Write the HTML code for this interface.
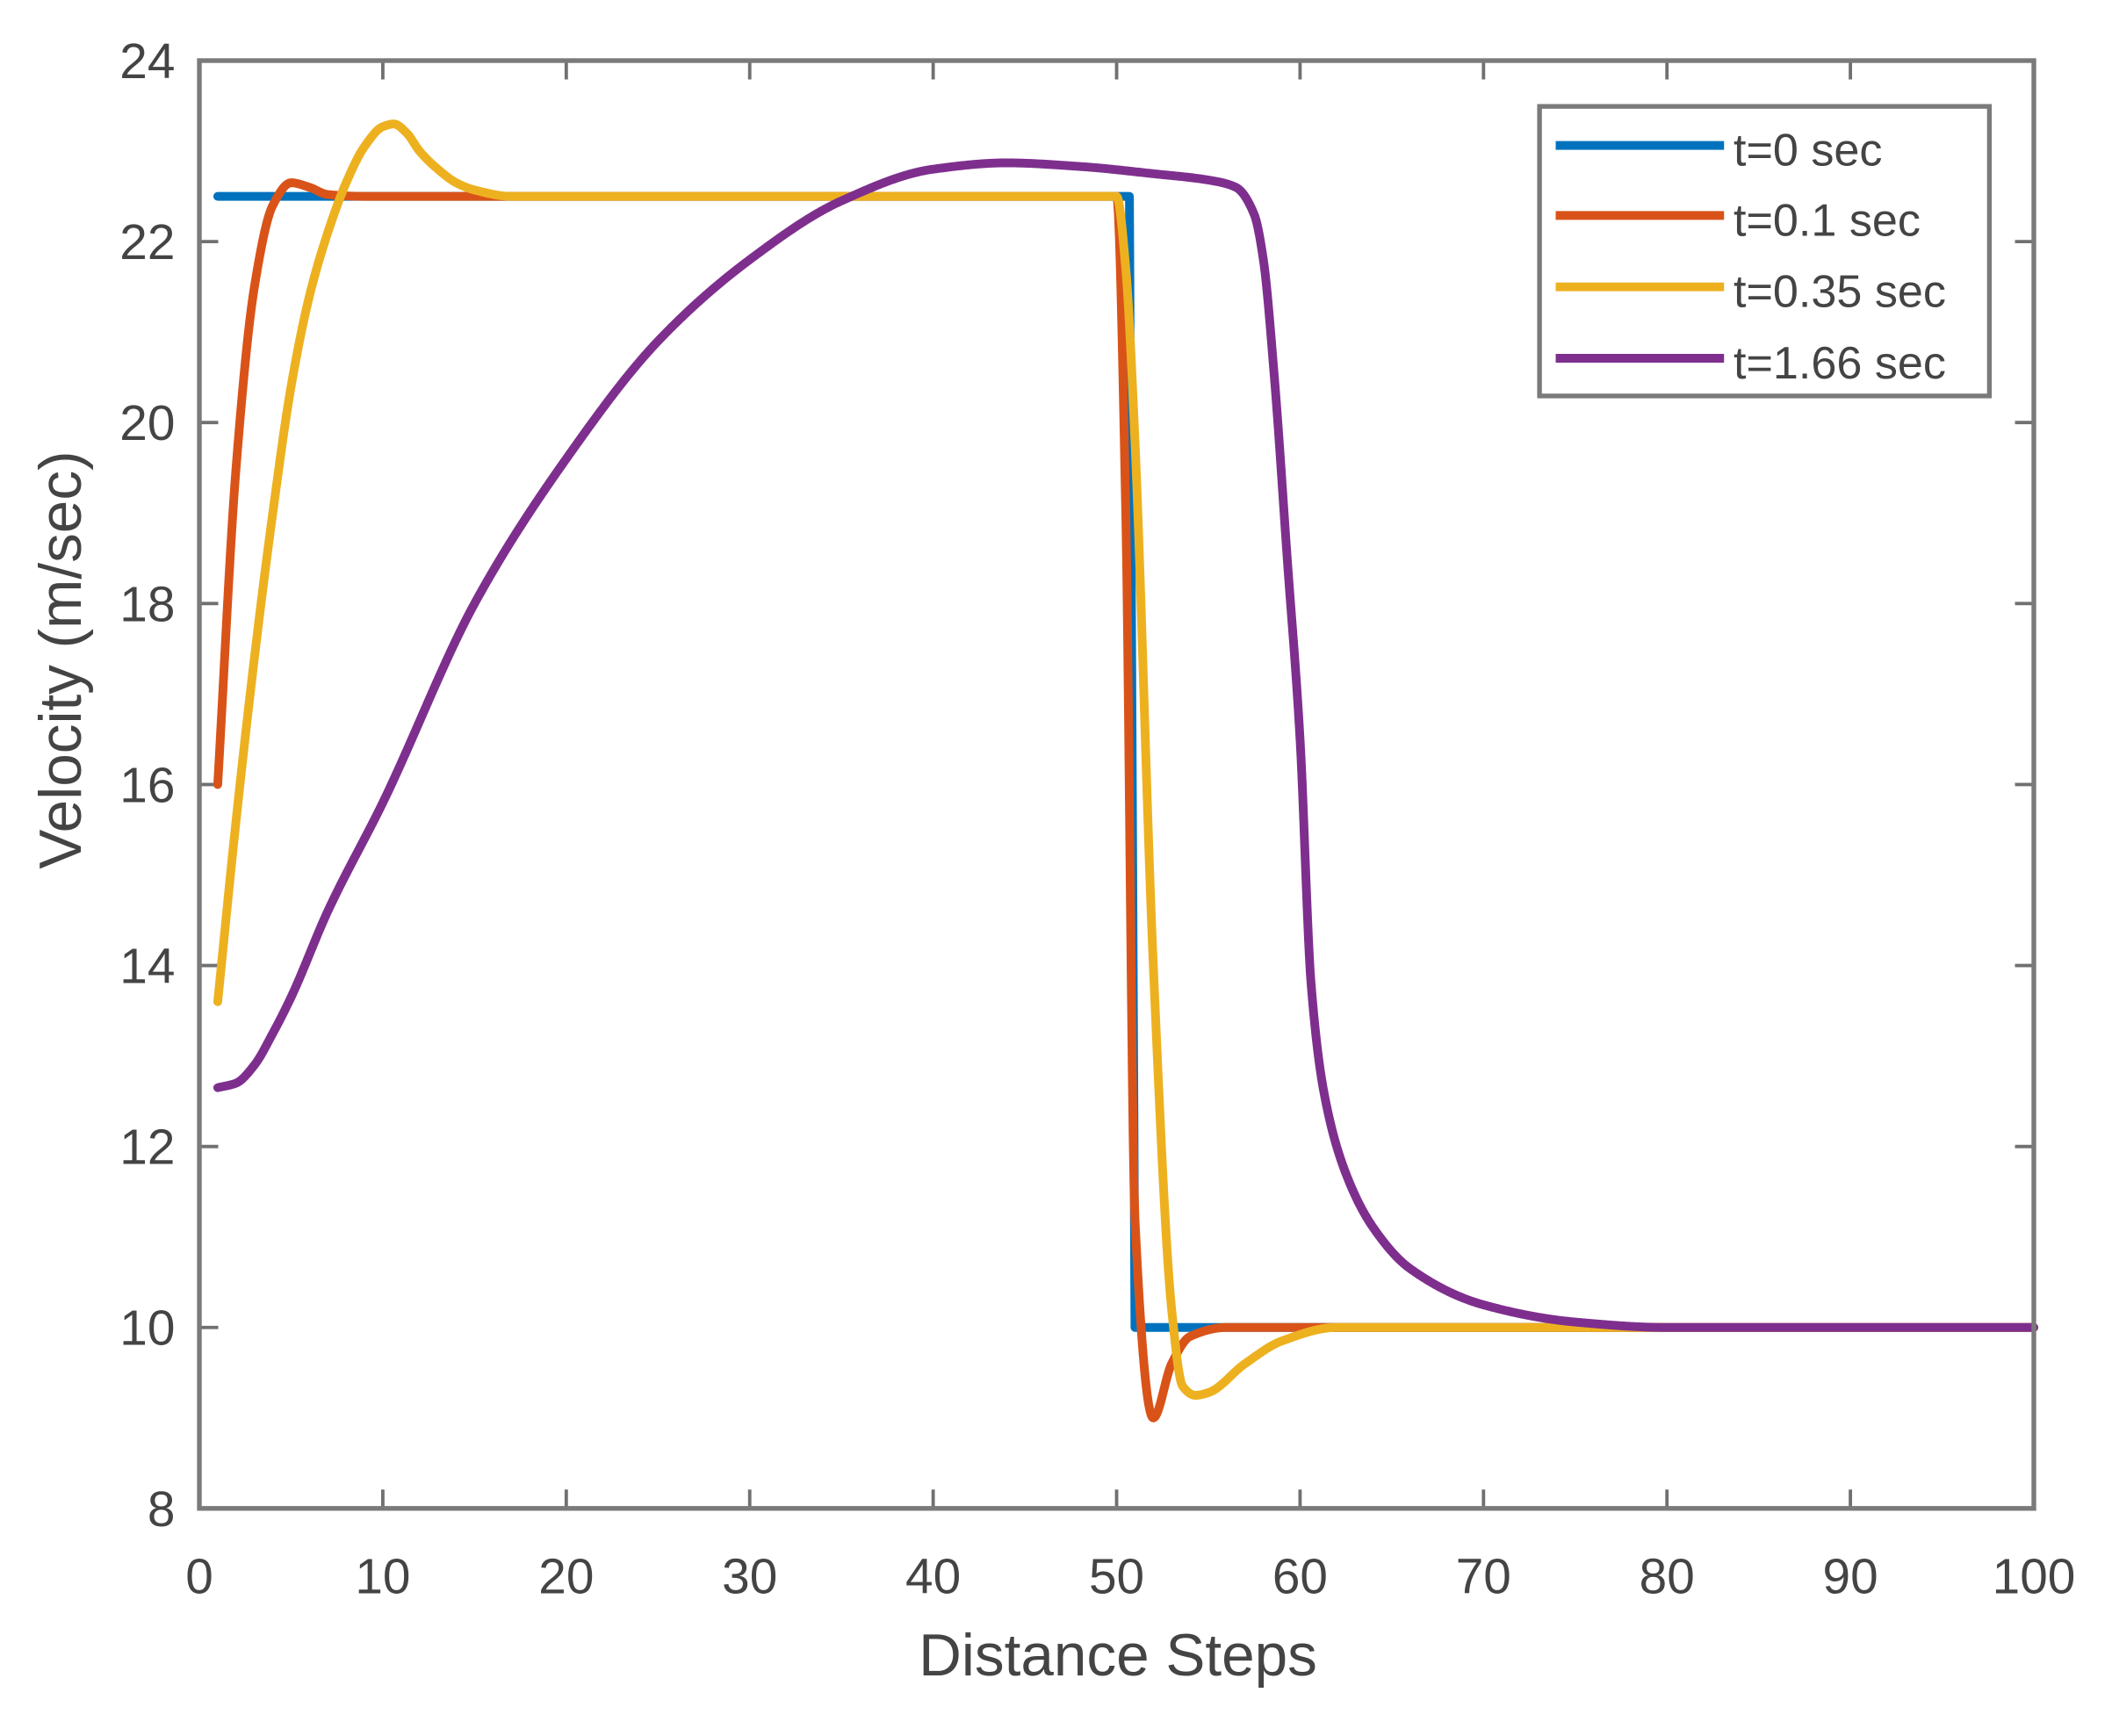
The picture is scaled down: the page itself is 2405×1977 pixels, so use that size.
<!DOCTYPE html>
<html><head><meta charset="utf-8"><style>
html,body{margin:0;padding:0;background:#fff;}
svg{display:block;}
text{font-family:"Liberation Sans",sans-serif;fill:#444;}
</style></head><body>
<svg id="s" width="2405" height="1977" viewBox="0 0 1568 1289" xmlns="http://www.w3.org/2000/svg">
<rect width="1568" height="1289" fill="#fff"/>
<g id="ticks" stroke="#707070" stroke-width="2.5"></g>
<g id="series" fill="none" stroke-width="6.5" stroke-linejoin="round" stroke-linecap="round"></g>
<rect x="148" y="45" width="1362" height="1075" fill="none" stroke="#7a7a7a" stroke-width="3.5"/>
<g id="labels" font-size="37"></g>
<text x="830" y="1244" font-size="44" text-anchor="middle">Distance Steps</text>
<text transform="translate(60,490) rotate(-90)" font-size="44" text-anchor="middle">Velocity (m/sec)</text>
<rect x="1143" y="79" width="334" height="215" fill="#fff" stroke="#7a7a7a" stroke-width="3.5"/>
<line x1="1155" y1="108" x2="1280" y2="108" stroke="#0072BD" stroke-width="6.5"/>
<line x1="1155" y1="160" x2="1280" y2="160" stroke="#D95319" stroke-width="6.5"/>
<line x1="1155" y1="213" x2="1280" y2="213" stroke="#EDB120" stroke-width="6.5"/>
<line x1="1155" y1="266" x2="1280" y2="266" stroke="#7E2F8E" stroke-width="6.5"/>
<text x="1287" y="123" font-size="34">t=0 sec</text>
<text x="1287" y="175" font-size="34">t=0.1 sec</text>
<text x="1287" y="228" font-size="34">t=0.35 sec</text>
<text x="1287" y="281" font-size="34">t=1.66 sec</text>
</svg>
<script>
const X=x=>148+x*13.62, Y=y=>45+(24-y)*67.19;
const NS="http://www.w3.org/2000/svg";
const tk=document.getElementById('ticks'), lb=document.getElementById('labels');
function el(p,t,a,txt){const e=document.createElementNS(NS,t);for(const k in a)e.setAttribute(k,a[k]);if(txt!=null)e.textContent=txt;p.appendChild(e);}
for(let x=0;x<=100;x+=10){const px=X(x);
 el(tk,'line',{x1:px,y1:1120,x2:px,y2:1106});el(tk,'line',{x1:px,y1:45,x2:px,y2:59});
 el(lb,'text',{x:px,y:1183,'text-anchor':'middle'},x);}
for(let y=8;y<=24;y+=2){const py=Y(y);
 el(tk,'line',{x1:148,y1:py,x2:162,y2:py});el(tk,'line',{x1:1510,y1:py,x2:1496,y2:py});
 el(lb,'text',{x:130,y:py+13,'text-anchor':'end'},y);}
function mono(pts){
 const n=pts.length,xs=pts.map(p=>p[0]),ys=pts.map(p=>p[1]);
 const d=[],m=[];
 for(let i=0;i<n-1;i++)d.push((ys[i+1]-ys[i])/(xs[i+1]-xs[i]));
 m[0]=d[0];m[n-1]=d[n-2];
 for(let i=1;i<n-1;i++){ if(d[i-1]*d[i]<=0)m[i]=0; else {const w1=2*(xs[i+1]-xs[i])+(xs[i]-xs[i-1]),w2=(xs[i+1]-xs[i])+2*(xs[i]-xs[i-1]);m[i]=(w1+w2)/(w1/d[i-1]+w2/d[i]);}}
 let out=[];
 for(let i=0;i<n-1;i++){const h=xs[i+1]-xs[i];const N=Math.max(2,Math.ceil(h/0.05));
  for(let k=0;k<N;k++){const t=k/N,t2=t*t,t3=t2*t;
   const y=(2*t3-3*t2+1)*ys[i]+(t3-2*t2+t)*h*m[i]+(-2*t3+3*t2)*ys[i+1]+(t3-t2)*h*m[i+1];
   out.push([xs[i]+t*h,y]);}}
 out.push(pts[n-1]);
 return 'M'+out.map(p=>X(p[0]).toFixed(2)+' '+Y(p[1]).toFixed(2)).join('L');}
const g=document.getElementById('series');
function lin(pts){return 'M'+pts.map(p=>X(p[0])+' '+Y(p[1])).join('L');}
el(g,'path',{d:lin([[1,22.5],[50.7,22.5],[51,10],[100,10]]),stroke:'#0072BD'});
el(g,'path',{d:mono([[1,16],[2,19.5],[3,21.5],[4,22.4],[5,22.65],[6,22.6],[7,22.52],[9,22.5],[50,22.5],[50.5,19],[51,11.2],[52,9.0],[53,9.6],[54,9.9],[56,10],[100,10]]),stroke:'#D95319'});
el(g,'path',{d:mono([[1,13.6],[2,15.6],[3,17.4],[4,19],[5,20.4],[6,21.4],[7,22.1],[8,22.65],[9,23.05],[10,23.27],[10.6,23.3],[11.3,23.2],[12,23.0],[13,22.8],[14,22.65],[15,22.57],[17,22.5],[50,22.5],[50.5,21.7],[51,19.8],[52,14],[53,10.2],[53.6,9.35],[54.3,9.25],[55,9.28],[57,9.6],[59,9.85],[62,10],[100,10]]),stroke:'#EDB120'});
el(g,'path',{d:mono([[1,12.65],[2,12.7],[3,12.9],[4,13.25],[5,13.65],[7,14.6],[10,15.8],[15,18.0],[20,19.6],[25,20.9],[30,21.8],[35,22.45],[40,22.8],[44,22.87],[48,22.83],[52,22.75],[55,22.68],[56.5,22.6],[57.5,22.3],[58,21.8],[58.6,20.5],[59.3,18.5],[60,16.5],[60.6,13.8],[61.3,12.6],[62.5,11.7],[64,11.1],[66,10.65],[70,10.25],[75,10.06],[80,10.0],[100,10]]),stroke:'#7E2F8E'});
</script>
</body></html>
